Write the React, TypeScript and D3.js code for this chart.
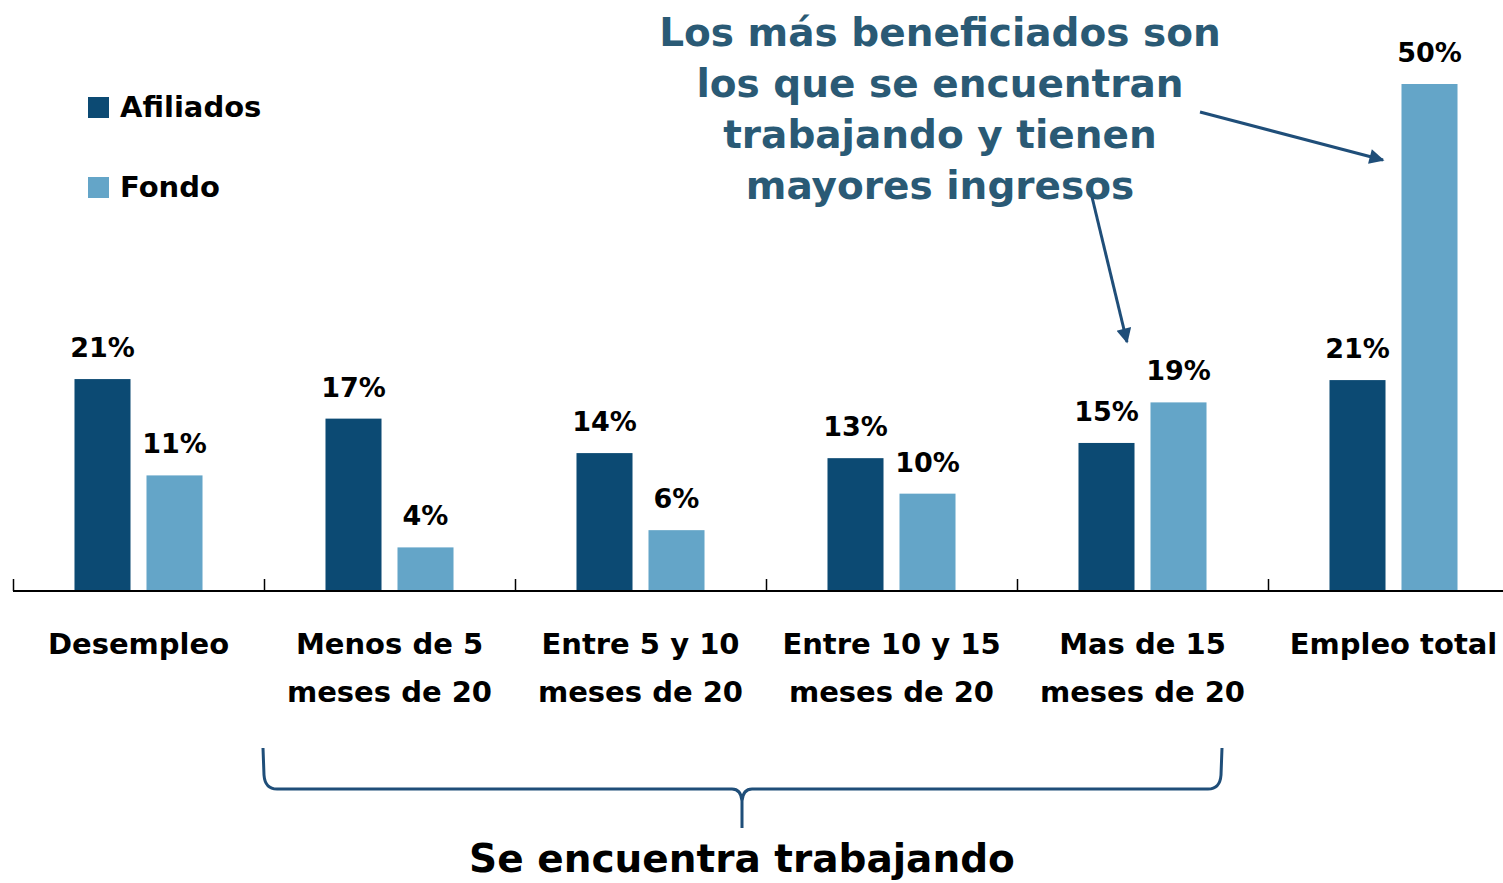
import React from "react";
import * as d3 from "d3";

const categories: string[][] = [
  ["Desempleo"],
  ["Menos de 5", "meses de 20"],
  ["Entre 5 y 10", "meses de 20"],
  ["Entre 10 y 15", "meses de 20"],
  ["Mas de 15", "meses de 20"],
  ["Empleo total"],
];
const seriesNames = ["Afiliados", "Fondo"];
const afiliados = [20.9, 17.0, 13.6, 13.1, 14.6, 20.8];
const fondo = [11.4, 4.3, 6.0, 9.6, 18.6, 50.0];
const annotationLines = [
  "Los más beneficiados son",
  "los que se encuentran",
  "trabajando y tienen",
  "mayores ingresos",
];
const braceLabel = "Se encuentra trabajando";

const W = 1503;
const H = 883;
const FONT = "'DejaVu Sans', 'Open Sans', sans-serif";
const DARK = "#0c4a73";
const LIGHT = "#64a5c8";
const ANN = "#2a5a75";
const ARROW = "#1f4e79";

export default function App() {
  const keys = categories.map((c) => c.join(" "));
  const x = d3.scaleBand<string>().domain(keys).range([13, 13 + 251 * 6]).padding(0);
  const xs = d3
    .scaleBand<string>()
    .domain(seriesNames)
    .range([0, x.bandwidth()])
    .paddingInner(0.222)
    .paddingOuter(0.854);
  const y = d3.scaleLinear().domain([0, 50]).range([591, 84]);
  const fmt = (v: number) => `${Math.round(v)}%`;
  const data = keys.map((k, i) => ({ key: k, lines: categories[i], vals: [afiliados[i], fondo[i]] }));
  const colors = [DARK, LIGHT];

  const bl = 263, br = 1222, bt = 748, bh = 789, bm = 742, bb = 828;
  const bracePath = `M${bl},${bt} L${bl + 1},${bh - 14} Q${bl + 2},${bh} ${bl + 14},${bh} L${bm - 10},${bh} Q${bm - 1},${bh} ${bm},${bh + 12} L${bm},${bb} M${bm},${bh + 12} Q${bm + 1},${bh} ${bm + 10},${bh} L${br - 14},${bh} Q${br - 2},${bh} ${br - 1},${bh - 14} L${br},${bt}`;

  return (
    <svg width={W} height={H} style={{ position: "absolute", left: 0, top: 0, background: "#fff" }} fontFamily={FONT}>
      <defs>
        <marker id="ah" viewBox="0 0 10 10" refX="9" refY="5" markerWidth="6" markerHeight="5" orient="auto" markerUnits="strokeWidth">
          <path d="M0,0 L10,5 L0,10 z" fill={ARROW} />
        </marker>
      </defs>
      {/* legend */}
      {seriesNames.map((s, i) => (
        <g key={s} transform={`translate(88,${97 + i * 80})`}>
          <rect width={21} height={21} fill={colors[i]} />
          <text x={32} y={20} fontSize={29} fontWeight={700} fill="#000">{s}</text>
        </g>
      ))}
      {/* bars */}
      {data.map((d) => (
        <g key={d.key} transform={`translate(${x(d.key)},0)`}>
          {d.vals.map((v, j) => (
            <g key={j}>
              <rect x={xs(seriesNames[j])} y={y(v)} width={xs.bandwidth()} height={y(0) - y(v)} fill={colors[j]} />
              <text x={(xs(seriesNames[j]) as number) + xs.bandwidth() / 2} y={y(v) - 22} textAnchor="middle" fontSize={27} fontWeight={700} fill="#000">
                {fmt(v)}
              </text>
            </g>
          ))}
          {d.lines.map((l, li) => (
            <text key={li} x={x.bandwidth() / 2} y={654 + li * 48} textAnchor="middle" fontSize={29} fontWeight={700} fill="#000">
              {l}
            </text>
          ))}
        </g>
      ))}
      {/* axis */}
      <line x1={13} x2={W} y1={y(0)} y2={y(0)} stroke="#000" strokeWidth={2} />
      {keys.map((k) => (
        <line key={k} x1={(x(k) as number) + 0.5} x2={(x(k) as number) + 0.5} y1={y(0)} y2={y(0) - 12} stroke="#000" strokeWidth={1.5} />
      ))}
      {/* annotation */}
      {annotationLines.map((l, i) => (
        <text key={i} x={940} y={46 + i * 51} textAnchor="middle" fontSize={39} fontWeight={700} fill={ANN}>
          {l}
        </text>
      ))}
      <line x1={1200} y1={112} x2={1383} y2={160} stroke={ARROW} strokeWidth={3} markerEnd="url(#ah)" />
      <line x1={1092} y1={197} x2={1127} y2={342} stroke={ARROW} strokeWidth={3} markerEnd="url(#ah)" />
      {/* brace */}
      <path d={bracePath} fill="none" stroke={ARROW} strokeWidth={3} />
      <text x={bm} y={872} textAnchor="middle" fontSize={39} fontWeight={700} fill="#000">{braceLabel}</text>
    </svg>
  );
}
